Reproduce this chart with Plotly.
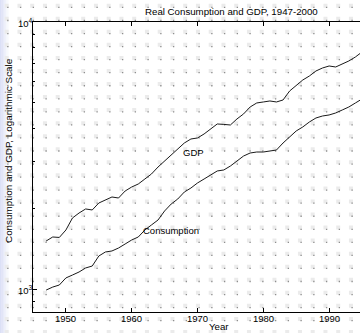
import plotly.graph_objects as go
import math

# ---- data ----
years = list(range(1947, 1996))
gdp = [1513, 1566, 1560, 1663, 1845, 1926, 1994, 1977, 2099, 2154,
       2211, 2192, 2328, 2410, 2473, 2582, 2696, 2863, 3015, 3203,
       3345, 3522, 3646, 3678, 3807, 3974, 4150, 4135, 4114, 4334,
       4525, 4805, 4974, 5017, 5061, 5017, 5105, 5515, 5808, 6064,
       6277, 6554, 6726, 6843, 6784, 6962, 7145, 7396, 7722]
consumption = [991, 1017, 1035, 1100, 1128, 1158, 1199, 1219, 1329, 1376,
               1388, 1424, 1474, 1526, 1566, 1663, 1737, 1813, 1960, 2081,
               2173, 2308, 2389, 2495, 2582, 2673, 2767, 2791, 2888, 3015,
               3148, 3231, 3259, 3259, 3287, 3316, 3522, 3710, 3907, 4044,
               4222, 4370, 4446, 4485, 4563, 4682, 4805, 4974, 5149]
x_ticks = [1950, 1960, 1970, 1980, 1990]
y_major = [1000, 10000]
y_major_text = ["10<sup>3</sup>", "10<sup>4</sup>"]
y_minor = [900, 2000, 3000, 4000, 5000, 6000, 7000, 8000, 9000]

W, H = 360, 333
L, R, T, B = 33, 0, 22, 21
PW, PH = W - L - R, H - T - B

def px(xp):
    return (xp - L) / PW

def py(yp):
    return (H - B - yp) / PH

FONT = "Liberation Sans, Arial, Helvetica, sans-serif"

fig = go.Figure()
fig.add_trace(go.Scatter(x=years, y=gdp, mode="lines",
                         line=dict(color="#1a1a1a", width=1), showlegend=False))
fig.add_trace(go.Scatter(x=years, y=consumption, mode="lines",
                         line=dict(color="#1a1a1a", width=1), showlegend=False))

# background texture (decorative dot pattern)
blob_path, dot_path = [], []
xs = [6.7 + 12.75 * i for i in range(30)]
ys = [5.7 + 13.05 * j for j in range(27)]
for yy in ys:
    for xx in xs:
        if xx > W or yy > H:
            continue
        x0, x1 = px(xx - 2), px(xx + 2)
        y0, y1 = py(yy - 2), py(yy + 2)
        blob_path.append(f"M{x0:.5f},{y0:.5f}H{x1:.5f}V{y1:.5f}H{x0:.5f}Z")
        d0, d1 = px(xx + 0.5), px(xx + 1.8)
        e0, e1 = py(yy + 1.1), py(yy + 2.4)
        dot_path.append(f"M{d0:.5f},{e0:.5f}H{d1:.5f}V{e1:.5f}H{d0:.5f}Z")

shapes = []
# left bluish strip
for k, a in enumerate([0.55, 0.45, 0.35, 0.25, 0.15, 0.07]):
    shapes.append(dict(type="rect", xref="paper", yref="paper",
                       x0=px(k * 1.5), x1=px(k * 1.5 + 1.5), y0=py(H), y1=py(0),
                       fillcolor=f"rgba(190,198,238,{a})", line=dict(width=0),
                       layer="below"))
shapes.append(dict(type="path", xref="paper", yref="paper", path="".join(blob_path),
                   fillcolor="#ebebeb", line=dict(width=0), layer="below"))
shapes.append(dict(type="path", xref="paper", yref="paper", path="".join(dot_path),
                   fillcolor="#8e8e8e", line=dict(width=0), layer="below"))

annotations = [
    dict(text="Real Consumption and GDP, 1947-2000", xref="paper", yref="paper",
         x=px(143), y=py(12), xanchor="left", yanchor="middle", showarrow=False,
         font=dict(size=9.7, color="black", family=FONT)),
    dict(text="Year", xref="paper", yref="paper", x=px(219), y=py(326),
         xanchor="center", yanchor="middle", showarrow=False,
         font=dict(size=9.7, color="black", family=FONT)),
    dict(text="Consumption and GDP, Logarithmic Scale", xref="paper", yref="paper",
         x=px(8), y=py(151), xanchor="center", yanchor="middle", textangle=-90,
         showarrow=False, font=dict(size=9.9, color="black", family=FONT)),
    dict(text="GDP", x=1969.35, y=math.log10(3232), xanchor="center", yanchor="middle",
         showarrow=False, font=dict(size=9.5, color="black", family=FONT)),
    dict(text="Consumption", x=1965.93, y=math.log10(1663), xanchor="center",
         yanchor="middle", showarrow=False,
         font=dict(size=9.5, color="black", family=FONT)),
]
# x tick labels just below the axis
for t in x_ticks:
    annotations.append(dict(text=str(t), x=t, xref="x", yref="paper", y=py(318.5),
                            xanchor="center", yanchor="middle", showarrow=False,
                            font=dict(size=9.5, color="black", family=FONT)))
# y tick labels (10^n) to the left of the axis
for v, txt in zip(y_major, y_major_text):
    annotations.append(dict(text=txt, x=px(34.5), xref="paper", y=math.log10(v),
                            yref="y", xanchor="right", yanchor="middle",
                            yshift=-1, showarrow=False,
                            font=dict(size=9.5, color="black", family=FONT)))

fig.update_layout(
    template="none",
    width=W, height=H,
    margin=dict(l=L, r=R, t=T, b=B, pad=0, autoexpand=False),
    paper_bgcolor="white", plot_bgcolor="rgba(0,0,0,0)",
    font=dict(family=FONT, size=9.5, color="black"),
    shapes=shapes, annotations=annotations, showlegend=False,
    hovermode=False,
)
fig.update_xaxes(range=[1945, 1945 + PW / 6.58], tickvals=x_ticks,
                 showticklabels=False, automargin=False,
                 ticks="inside", ticklen=4, tickcolor="black", showline=True,
                 linecolor="black", linewidth=1, mirror="ticks", showgrid=False,
                 zeroline=False)
fig.update_yaxes(type="log", range=[3 - 23 / 267, 4], tickvals=y_major,
                 showticklabels=False, automargin=False,
                 ticks="inside", ticklen=4, tickcolor="black",
                 showline=True, linecolor="black", linewidth=1, showgrid=False,
                 zeroline=False,
                 minor=dict(tickvals=y_minor, ticks="inside", ticklen=2,
                            tickcolor="black", showgrid=False))

fig.write_html("out.html",
               config={"displayModeBar": False, "staticPlot": True},
               post_script="document.body.style.margin='0';"
                           "document.body.style.overflow='hidden';")
